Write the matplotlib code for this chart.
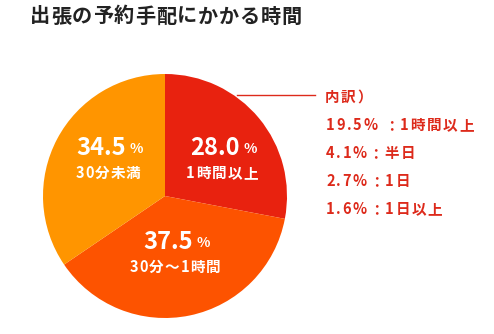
import matplotlib.pyplot as plt

plt.rcParams['font.family'] = ['Noto Sans CJK JP', 'DejaVu Sans']

title = '出張の予約手配にかかる時間'
labels = ['1時間以上', '30分〜1時間', '30分未満']
shares = [28.0, 37.5, 34.5]
colors = ['#E8220F', '#FD5300', '#FF9500']

breakdown_head = '内訳）'
breakdown = ['19.5% ：1時間以上', '4.1%：半日', '2.7%：1日', '1.6%：1日以上']

W, H = 494, 334
fig = plt.figure(figsize=(W / 100, H / 100), dpi=100)
ax = fig.add_axes([0, 0, 1, 1])


def py(y):
    # pixel rows counted from the top
    return H - y


def spaced(x, y, s, track, **kw):
    # left-aligned text with extra letter spacing (in points)
    first = prev = ax.text(x, y, s[0], ha='left', va='center', **kw)
    for ch in s[1:]:
        prev = ax.annotate(ch, xy=(1, 0), xycoords=prev, xytext=(track, 0),
                           textcoords='offset points', ha='left',
                           va='bottom', **kw)
    return first, prev


def spaced_center(x, y, s, track, **kw):
    first, last = spaced(x, y, s, track, **kw)
    fig.canvas.draw()
    rend = fig.canvas.get_renderer()
    x0 = first.get_window_extent(rend).x0
    x1 = last.get_window_extent(rend).x1
    first.set_x(x - (x1 - x0) / 2)


cx, cy, r = 165, 196, 122
ax.pie(shares, colors=colors, startangle=90, counterclock=False,
       center=(cx, py(cy)), radius=r, frame=True,
       wedgeprops=dict(linewidth=0))
ax.set_xlim(0, W)
ax.set_ylim(0, H)
ax.set_aspect('equal')
ax.axis('off')

# value labels inside the wedges
label_pos = [(222, 148), (175, 242), (108, 148)]
for v, lab, (x, y) in zip(shares, labels, label_pos):
    t = ax.text(x - 7, py(y), f'{v:.1f}', color='white', fontsize=17,
                fontweight='bold', ha='center', va='center')
    ax.annotate('%', xy=(1, 0.18), xycoords=t, xytext=(3, 0),
                textcoords='offset points', color='white', fontsize=10,
                fontweight='bold', ha='left', va='bottom')
    spaced_center(x, py(y + 25), lab, 0.8, color='white', fontsize=10.5,
                  fontweight='bold')

# leader line to the breakdown of the first wedge
red = '#DD2A1B'
ax.plot([237, 315], [py(95), py(95)], color=red, linewidth=1)
spaced(325, py(97), breakdown_head, 1.0, color=red, fontsize=10.5,
       fontweight='bold')
for i, s in enumerate(breakdown):
    spaced(326, py(125 + 28 * i), s, 1.2, color=red, fontsize=10.5,
           fontweight='bold')

spaced(30, py(16), title, 0.6, color='#222222', fontsize=14.5,
       fontweight='bold')

fig.savefig('out.png', dpi=100)
